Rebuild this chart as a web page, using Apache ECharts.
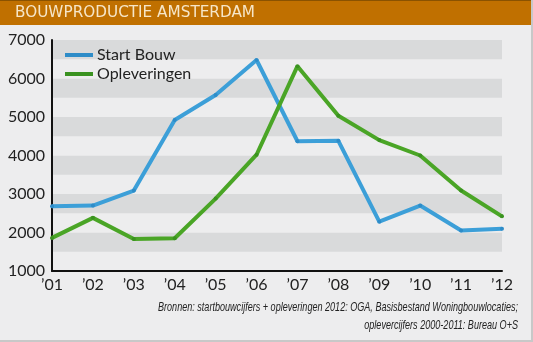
<!DOCTYPE html>
<html><head><meta charset="utf-8">
<script src="https://cdn.jsdelivr.net/npm/echarts@6/dist/echarts.min.js"></script>
<style>html,body{margin:0;padding:0;background:#ededee}#c{width:533px;height:342px}</style>
</head><body><div id="c"></div>
<script>
const years = ["’01","’02","’03","’04","’05","’06","’07","’08","’09","’10","’11","’12"];
const startBouw = [2680, 2700, 3090, 4920, 5570, 6480, 4370, 4380, 2280, 2700, 2050, 2100];
const opleveringen = [1860, 2380, 1830, 1850, 2880, 4020, 6320, 5030, 4400, 4000, 3090, 2420];
const titleText = 'BOUWPRODUCTIE AMSTERDAM';
const source1 = 'Bronnen: startbouwcijfers + opleveringen 2012: OGA, Basisbestand Woningbouwlocaties;';
const source2 = 'oplevercijfers 2000-2011: Bureau O+S';

const srcFont = 'italic 13px "Liberation Sans"';
const ctx = document.createElement('canvas').getContext('2d');
ctx.font = srcFont;
const w1 = ctx.measureText(source1).width;
const srcScale = 360 / w1;
const titleFont = '15px "DejaVu Sans"';
ctx.font = titleFont;
const tScale = 240 / ctx.measureText(titleText).width;

const chart = echarts.init(document.getElementById('c'), null, {renderer:'canvas'});
const font = 'Lato';
chart.setOption({
  animation: false,
  backgroundColor: '#ededee',
  graphic: [
    {type:'rect', shape:{x:0,y:0,width:533,height:25}, style:{fill:'#c07000'}},
    {type:'rect', shape:{x:0,y:0,width:533,height:1}, style:{fill:'#8a5200'}},
    {type:'text', x:15, y:13, scaleX:tScale, style:{text:titleText, fill:'#f6e6c8', font:titleFont, verticalAlign:'middle'}},
    {type:'text', x:518, y:307, scaleX:srcScale, style:{text:source1, fill:'#222', font:srcFont, align:'right', verticalAlign:'middle'}},
    {type:'text', x:518, y:325, scaleX:srcScale, style:{text:source2, fill:'#222', font:srcFont, align:'right', verticalAlign:'middle'}},
    {type:'rect', shape:{x:531,y:0,width:2,height:342}, style:{fill:'#c8c8c8'}},
    {type:'rect', shape:{x:0,y:340,width:533,height:2}, style:{fill:'#c8c8c8'}}
  ],
  legend: {
    left: 60, top: 42, orient: 'vertical', itemWidth: 28, itemHeight: 4, itemGap: 3,
    icon: 'rect',
    textStyle: {fontFamily: font, fontSize: 16, color: '#222', padding: [0,0,0,-1]},
    data: ['Start Bouw', 'Opleveringen']
  },
  grid: {left: 52, right: 31, top: 40, bottom: 71, containLabel: false},
  xAxis: {
    type: 'category', data: years, boundaryGap: false,
    axisLine: {lineStyle: {color: '#111', width: 2}},
    axisTick: {show: false},
    axisLabel: {color: '#222', fontFamily: font, fontSize: 16, margin: 6}
  },
  yAxis: {
    type: 'value', min: 1000, max: 7000, interval: 500,
    axisLine: {show: true, lineStyle: {color: '#111', width: 2}},
    axisTick: {show: false},
    splitLine: {show: false},
    splitArea: {show: true, areaStyle: {color: ['#ededee', '#d9dadb']}},
    axisLabel: {color: '#222', fontFamily: font, fontSize: 16, margin: 7,
      formatter: v => (v % 1000 === 0 ? String(v) : '')}
  },
  series: [
    {name: 'Start Bouw', type: 'line', data: startBouw, symbol: 'circle', symbolSize: 4, showSymbol: true,
      lineStyle: {color: '#3c9fd8', width: 4}, itemStyle: {color: '#2e8cc8'}},
    {name: 'Opleveringen', type: 'line', data: opleveringen, symbol: 'circle', symbolSize: 4,
      lineStyle: {color: '#4aa526', width: 4}, itemStyle: {color: '#3a9220'}}
  ]
});
</script></body></html>
